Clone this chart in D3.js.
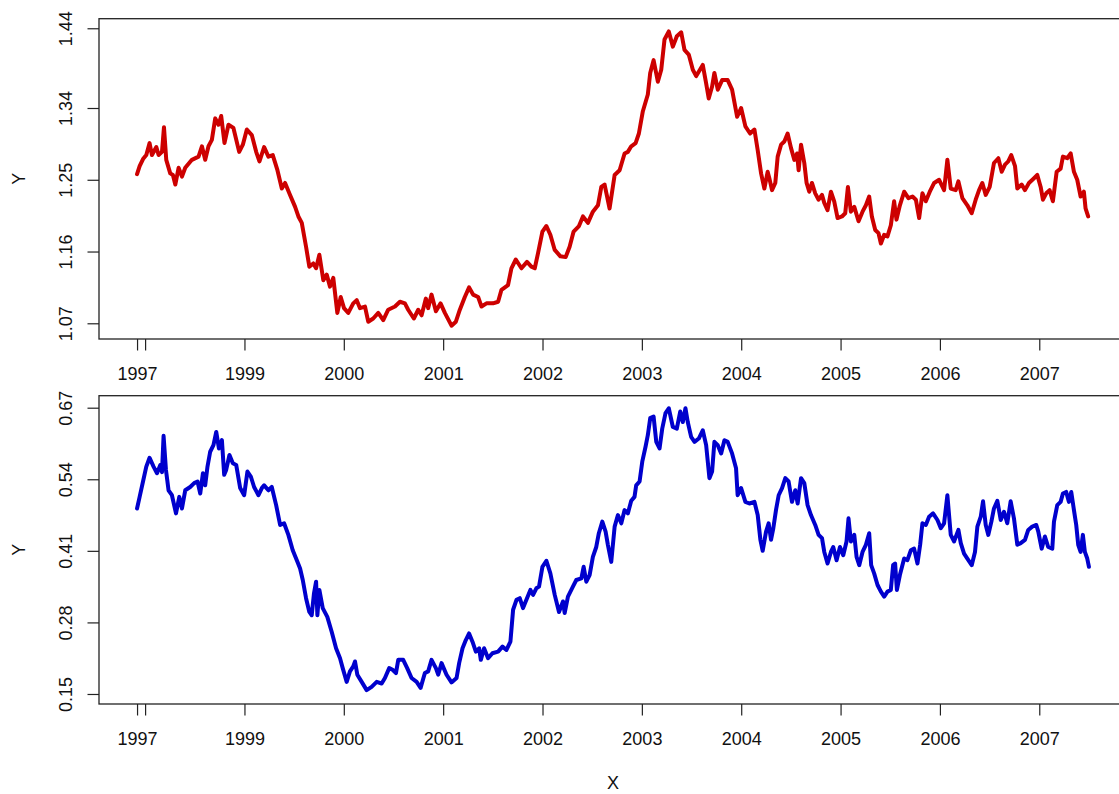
<!DOCTYPE html>
<html>
<head>
<meta charset="utf-8">
<script src="https://cdn.jsdelivr.net/npm/d3@7"></script>
<style>
  body { margin: 0; background: white; }
  #container { width: 1119px; height: 794px; }
</style>
</head>
<body>
<div id="container"></div>
<script>
// values: [decimal year, value]
let topSeries = [[1997.919,1.257],[1997.945,1.267],[1997.979,1.276],[1998.012,1.281],[1998.045,1.296],[1998.069,1.281],[1998.113,1.291],[1998.136,1.281],[1998.170,1.285],[1998.190,1.316],[1998.213,1.275],[1998.253,1.258],[1998.280,1.256],[1998.304,1.244],[1998.337,1.265],[1998.371,1.254],[1998.404,1.265],[1998.471,1.275],[1998.538,1.279],[1998.572,1.292],[1998.605,1.275],[1998.638,1.292],[1998.672,1.300],[1998.706,1.327],[1998.739,1.319],[1998.766,1.330],[1998.799,1.296],[1998.839,1.319],[1998.889,1.315],[1998.947,1.285],[1998.984,1.294],[1999.024,1.313],[1999.074,1.306],[1999.118,1.285],[1999.151,1.273],[1999.198,1.291],[1999.241,1.279],[1999.285,1.281],[1999.332,1.262],[1999.376,1.239],[1999.409,1.246],[1999.459,1.231],[1999.510,1.216],[1999.543,1.204],[1999.577,1.196],[1999.620,1.166],[1999.653,1.141],[1999.693,1.145],[1999.721,1.139],[1999.754,1.156],[1999.794,1.124],[1999.828,1.131],[1999.861,1.116],[1999.894,1.127],[1999.935,1.083],[1999.969,1.103],[2000.002,1.089],[2000.045,1.083],[2000.095,1.095],[2000.130,1.099],[2000.163,1.089],[2000.213,1.091],[2000.246,1.072],[2000.296,1.076],[2000.347,1.083],[2000.397,1.074],[2000.447,1.087],[2000.515,1.091],[2000.565,1.097],[2000.615,1.095],[2000.648,1.087],[2000.705,1.076],[2000.749,1.087],[2000.783,1.080],[2000.826,1.101],[2000.849,1.089],[2000.883,1.106],[2000.927,1.085],[2000.974,1.095],[2001.017,1.083],[2001.084,1.067],[2001.128,1.072],[2001.168,1.087],[2001.218,1.103],[2001.261,1.115],[2001.301,1.106],[2001.352,1.103],[2001.386,1.091],[2001.436,1.095],[2001.502,1.095],[2001.553,1.097],[2001.587,1.112],[2001.653,1.118],[2001.687,1.139],[2001.731,1.150],[2001.788,1.139],[2001.844,1.147],[2001.888,1.141],[2001.922,1.139],[2001.955,1.158],[2001.999,1.185],[2002.039,1.192],[2002.079,1.181],[2002.123,1.162],[2002.180,1.154],[2002.233,1.153],[2002.273,1.166],[2002.313,1.185],[2002.367,1.192],[2002.407,1.204],[2002.457,1.196],[2002.507,1.210],[2002.558,1.218],[2002.592,1.241],[2002.625,1.244],[2002.675,1.214],[2002.726,1.256],[2002.776,1.262],[2002.826,1.283],[2002.859,1.285],[2002.893,1.292],[2002.937,1.296],[2002.970,1.308],[2003.010,1.336],[2003.060,1.357],[2003.084,1.384],[2003.118,1.400],[2003.161,1.373],[2003.195,1.388],[2003.228,1.426],[2003.271,1.436],[2003.312,1.417],[2003.352,1.430],[2003.396,1.435],[2003.429,1.413],[2003.472,1.407],[2003.513,1.388],[2003.547,1.380],[2003.613,1.394],[2003.647,1.371],[2003.673,1.352],[2003.707,1.367],[2003.730,1.384],[2003.764,1.363],[2003.808,1.375],[2003.864,1.375],[2003.908,1.363],[2003.959,1.329],[2003.999,1.340],[2004.042,1.317],[2004.089,1.308],[2004.133,1.313],[2004.166,1.287],[2004.200,1.258],[2004.233,1.239],[2004.266,1.260],[2004.283,1.252],[2004.310,1.237],[2004.343,1.246],[2004.367,1.279],[2004.401,1.294],[2004.434,1.298],[2004.467,1.308],[2004.501,1.290],[2004.534,1.275],[2004.562,1.283],[2004.578,1.262],[2004.602,1.294],[2004.635,1.271],[2004.658,1.246],[2004.685,1.235],[2004.712,1.246],[2004.745,1.233],[2004.779,1.225],[2004.813,1.231],[2004.836,1.221],[2004.869,1.212],[2004.903,1.235],[2004.936,1.223],[2004.970,1.202],[2005.014,1.204],[2005.047,1.208],[2005.074,1.241],[2005.104,1.210],[2005.138,1.216],[2005.181,1.198],[2005.221,1.210],[2005.255,1.218],[2005.288,1.229],[2005.315,1.204],[2005.349,1.187],[2005.382,1.183],[2005.406,1.170],[2005.439,1.181],[2005.472,1.179],[2005.506,1.193],[2005.539,1.223],[2005.563,1.200],[2005.597,1.218],[2005.640,1.235],[2005.683,1.227],[2005.724,1.229],[2005.758,1.225],[2005.791,1.202],[2005.824,1.233],[2005.858,1.223],[2005.898,1.235],[2005.942,1.246],[2005.992,1.250],[2006.042,1.237],[2006.075,1.275],[2006.109,1.239],[2006.159,1.237],[2006.186,1.248],[2006.226,1.227],[2006.276,1.218],[2006.320,1.208],[2006.360,1.225],[2006.394,1.237],[2006.427,1.246],[2006.461,1.231],[2006.501,1.241],[2006.544,1.271],[2006.588,1.277],[2006.622,1.260],[2006.655,1.269],[2006.688,1.273],[2006.718,1.281],[2006.756,1.267],[2006.779,1.239],[2006.823,1.244],[2006.856,1.237],[2006.896,1.246],[2006.947,1.252],[2006.980,1.256],[2007.014,1.241],[2007.037,1.225],[2007.070,1.233],[2007.104,1.237],[2007.137,1.223],[2007.175,1.260],[2007.215,1.264],[2007.238,1.279],[2007.281,1.277],[2007.316,1.283],[2007.349,1.260],[2007.382,1.250],[2007.416,1.229],[2007.449,1.235],[2007.466,1.214],[2007.492,1.204]];

let bottomSeries = [[1997.919,0.487],[1997.945,0.508],[1997.979,0.536],[1998.012,0.563],[1998.045,0.579],[1998.085,0.563],[1998.120,0.551],[1998.153,0.566],[1998.170,0.553],[1998.186,0.619],[1998.210,0.557],[1998.236,0.520],[1998.270,0.511],[1998.311,0.478],[1998.344,0.508],[1998.371,0.487],[1998.404,0.520],[1998.454,0.526],[1998.494,0.533],[1998.528,0.536],[1998.555,0.514],[1998.582,0.551],[1998.605,0.529],[1998.628,0.563],[1998.655,0.590],[1998.688,0.602],[1998.716,0.626],[1998.743,0.596],[1998.773,0.611],[1998.796,0.548],[1998.816,0.557],[1998.849,0.584],[1998.883,0.569],[1998.917,0.566],[1998.957,0.524],[1998.997,0.511],[1999.030,0.554],[1999.064,0.545],[1999.097,0.526],[1999.141,0.511],[1999.175,0.524],[1999.198,0.529],[1999.241,0.520],[1999.275,0.526],[1999.319,0.493],[1999.359,0.457],[1999.399,0.460],[1999.442,0.439],[1999.486,0.411],[1999.527,0.393],[1999.560,0.378],[1999.587,0.357],[1999.620,0.324],[1999.653,0.299],[1999.677,0.293],[1999.700,0.333],[1999.721,0.354],[1999.734,0.293],[1999.754,0.339],[1999.788,0.306],[1999.834,0.290],[1999.878,0.263],[1999.922,0.233],[1999.962,0.215],[1999.989,0.197],[2000.029,0.172],[2000.062,0.191],[2000.095,0.200],[2000.113,0.209],[2000.136,0.185],[2000.180,0.172],[2000.230,0.157],[2000.280,0.163],[2000.331,0.172],[2000.381,0.169],[2000.414,0.179],[2000.457,0.197],[2000.491,0.194],[2000.525,0.188],[2000.548,0.212],[2000.598,0.212],[2000.638,0.197],[2000.682,0.179],[2000.733,0.172],[2000.773,0.161],[2000.816,0.188],[2000.849,0.191],[2000.883,0.212],[2000.927,0.197],[2000.950,0.185],[2000.984,0.206],[2001.034,0.185],[2001.084,0.171],[2001.135,0.179],[2001.161,0.206],[2001.195,0.233],[2001.228,0.248],[2001.261,0.260],[2001.295,0.245],[2001.329,0.227],[2001.362,0.233],[2001.379,0.212],[2001.412,0.233],[2001.452,0.215],[2001.496,0.224],[2001.553,0.227],[2001.597,0.236],[2001.637,0.230],[2001.677,0.245],[2001.704,0.303],[2001.738,0.321],[2001.771,0.324],[2001.804,0.306],[2001.844,0.324],[2001.878,0.339],[2001.905,0.330],[2001.938,0.342],[2001.965,0.345],[2001.999,0.381],[2002.039,0.392],[2002.079,0.369],[2002.123,0.330],[2002.166,0.299],[2002.206,0.318],[2002.223,0.297],[2002.256,0.327],[2002.306,0.345],[2002.340,0.357],[2002.391,0.360],[2002.414,0.381],[2002.441,0.354],[2002.474,0.366],[2002.507,0.399],[2002.541,0.417],[2002.567,0.442],[2002.602,0.463],[2002.635,0.445],[2002.658,0.421],[2002.692,0.390],[2002.726,0.454],[2002.759,0.475],[2002.793,0.460],[2002.826,0.484],[2002.859,0.478],[2002.893,0.501],[2002.926,0.508],[2002.943,0.529],[2002.977,0.536],[2003.004,0.572],[2003.037,0.599],[2003.060,0.620],[2003.084,0.651],[2003.118,0.654],[2003.145,0.608],[2003.178,0.596],[2003.205,0.632],[2003.238,0.660],[2003.271,0.669],[2003.312,0.635],[2003.352,0.632],[2003.386,0.663],[2003.412,0.644],[2003.439,0.669],[2003.462,0.644],[2003.496,0.617],[2003.530,0.608],[2003.573,0.614],[2003.613,0.629],[2003.647,0.602],[2003.680,0.542],[2003.707,0.554],[2003.730,0.608],[2003.764,0.602],[2003.798,0.587],[2003.831,0.611],[2003.864,0.608],[2003.908,0.587],[2003.948,0.560],[2003.964,0.511],[2003.999,0.524],[2004.042,0.499],[2004.082,0.496],[2004.133,0.499],[2004.166,0.475],[2004.193,0.430],[2004.216,0.410],[2004.250,0.445],[2004.276,0.460],[2004.300,0.430],[2004.323,0.451],[2004.350,0.484],[2004.377,0.511],[2004.411,0.524],[2004.444,0.542],[2004.477,0.536],[2004.511,0.499],[2004.544,0.520],[2004.568,0.496],[2004.602,0.542],[2004.635,0.533],[2004.668,0.493],[2004.702,0.475],[2004.745,0.457],[2004.779,0.439],[2004.813,0.433],[2004.836,0.408],[2004.869,0.387],[2004.903,0.408],[2004.926,0.417],[2004.960,0.393],[2004.994,0.417],[2005.027,0.402],[2005.060,0.427],[2005.080,0.469],[2005.104,0.427],[2005.138,0.439],[2005.161,0.399],[2005.188,0.384],[2005.221,0.408],[2005.255,0.421],[2005.288,0.442],[2005.308,0.384],[2005.338,0.369],[2005.372,0.348],[2005.406,0.336],[2005.439,0.327],[2005.472,0.336],[2005.506,0.339],[2005.529,0.384],[2005.549,0.387],[2005.567,0.339],[2005.597,0.366],[2005.640,0.396],[2005.673,0.393],[2005.707,0.411],[2005.740,0.414],[2005.774,0.387],[2005.801,0.421],[2005.824,0.460],[2005.858,0.457],[2005.891,0.472],[2005.931,0.478],[2005.975,0.466],[2006.009,0.451],[2006.042,0.460],[2006.075,0.511],[2006.109,0.439],[2006.142,0.427],[2006.186,0.448],[2006.210,0.424],[2006.243,0.405],[2006.276,0.396],[2006.320,0.384],[2006.353,0.408],[2006.377,0.454],[2006.411,0.472],[2006.434,0.500],[2006.461,0.457],[2006.487,0.439],[2006.518,0.463],[2006.544,0.487],[2006.578,0.501],[2006.612,0.466],[2006.645,0.481],[2006.678,0.460],[2006.712,0.500],[2006.745,0.469],[2006.779,0.421],[2006.813,0.424],[2006.856,0.430],[2006.889,0.448],[2006.929,0.454],[2006.970,0.457],[2006.990,0.445],[2007.024,0.414],[2007.057,0.436],[2007.090,0.417],[2007.131,0.414],[2007.148,0.463],[2007.181,0.493],[2007.215,0.499],[2007.238,0.514],[2007.271,0.517],[2007.298,0.499],[2007.322,0.517],[2007.349,0.484],[2007.372,0.457],[2007.392,0.421],[2007.416,0.408],[2007.439,0.439],[2007.459,0.408],[2007.483,0.396],[2007.500,0.381]];

let xTickValues = [1997.919, 1998, 1999, 2000, 2001, 2002, 2003, 2004, 2005, 2006, 2007];
let xTickLabels = ['1997', '', '1999', '2000', '2001', '2002', '2003', '2004', '2005', '2006', '2007'];
let topTicks = [1.07, 1.16, 1.25, 1.34, 1.44];
let topTickLabels = ['1.07', '1.16', '1.25', '1.34', '1.44'];
let bottomTicks = [0.15, 0.28, 0.41, 0.54, 0.67];
let bottomTickLabels = ['0.15', '0.28', '0.41', '0.54', '0.67'];

let w = 1119,
    h = 794,
    left = 99,
    right = 1127;

let viz = d3.select('#container')
  .append('svg')
    .attr('width', w)
    .attr('height', h)
    .style('background', 'white')
    .attr('font-family', '"Liberation Sans", Arial, Helvetica, sans-serif');

// R style: 4% padding around data range
let x = d3.scaleLinear().domain([1997.536, 2007.883]).range([left, right]);

function panel(series, top, bottom, yDomain, ticks, tickLabels, color) {
  let y = d3.scaleLinear().domain(yDomain).range([bottom, top]);
  let g = viz.append('g');

  let line = d3.line()
      .x(d => x(d[0]))
      .y(d => y(d[1]));

  g.append('path')
      .datum(series)
      .attr('d', line)
      .attr('fill', 'none')
      .attr('stroke', color)
      .attr('stroke-width', 4)
      .attr('stroke-linejoin', 'round')
      .attr('stroke-linecap', 'round');

  // x axis
  let xAxis = g.append('g')
      .attr('transform', 'translate(0,' + bottom + ')')
      .call(d3.axisBottom(x)
        .tickValues(xTickValues)
        .tickFormat((d, i) => xTickLabels[i])
        .tickSize(11.5)
        .tickSizeOuter(0)
        .tickPadding(17));
  xAxis.select('.domain').remove();
  xAxis.selectAll('line').attr('stroke', '#222').attr('stroke-width', 1.2);
  xAxis.selectAll('text').attr('font-size', 18).attr('fill', '#111').attr('font-family', null);

  // y axis, labels parallel to the axis
  let yAxis = g.append('g')
      .attr('transform', 'translate(' + left + ',0)')
      .call(d3.axisLeft(y)
        .tickValues(ticks)
        .tickFormat((d, i) => tickLabels[i])
        .tickSize(11.5)
        .tickSizeOuter(0));
  yAxis.select('.domain').remove();
  yAxis.selectAll('line').attr('stroke', '#222').attr('stroke-width', 1.2);
  yAxis.selectAll('text')
      .attr('x', null)
      .attr('dy', null)
      .attr('font-size', 18)
      .attr('fill', '#111')
      .attr('font-family', null)
      .attr('text-anchor', 'middle')
      .attr('transform', 'translate(-27.5,0) rotate(-90)');

  // box
  g.append('rect')
      .attr('x', left)
      .attr('y', top)
      .attr('width', right - left)
      .attr('height', bottom - top)
      .attr('fill', 'none')
      .attr('stroke', '#222')
      .attr('stroke-width', 1.3);

  g.append('text')
      .attr('transform', 'translate(25,' + (top + bottom) / 2 + ') rotate(-90)')
      .attr('text-anchor', 'middle')
      .attr('font-size', 18)
      .attr('fill', '#111')
      .text('Y');
}

panel(topSeries, 18.7, 339, [1.0503, 1.452], topTicks, topTickLabels, '#cd0000');
panel(bottomSeries, 395.7, 704, [0.1318, 0.6918], bottomTicks, bottomTickLabels, '#0000cd');

viz.append('text')
    .attr('x', (left + right) / 2)
    .attr('y', 789)
    .attr('text-anchor', 'middle')
    .attr('font-size', 18)
    .attr('fill', '#111')
    .text('X');
</script>
</body>
</html>
